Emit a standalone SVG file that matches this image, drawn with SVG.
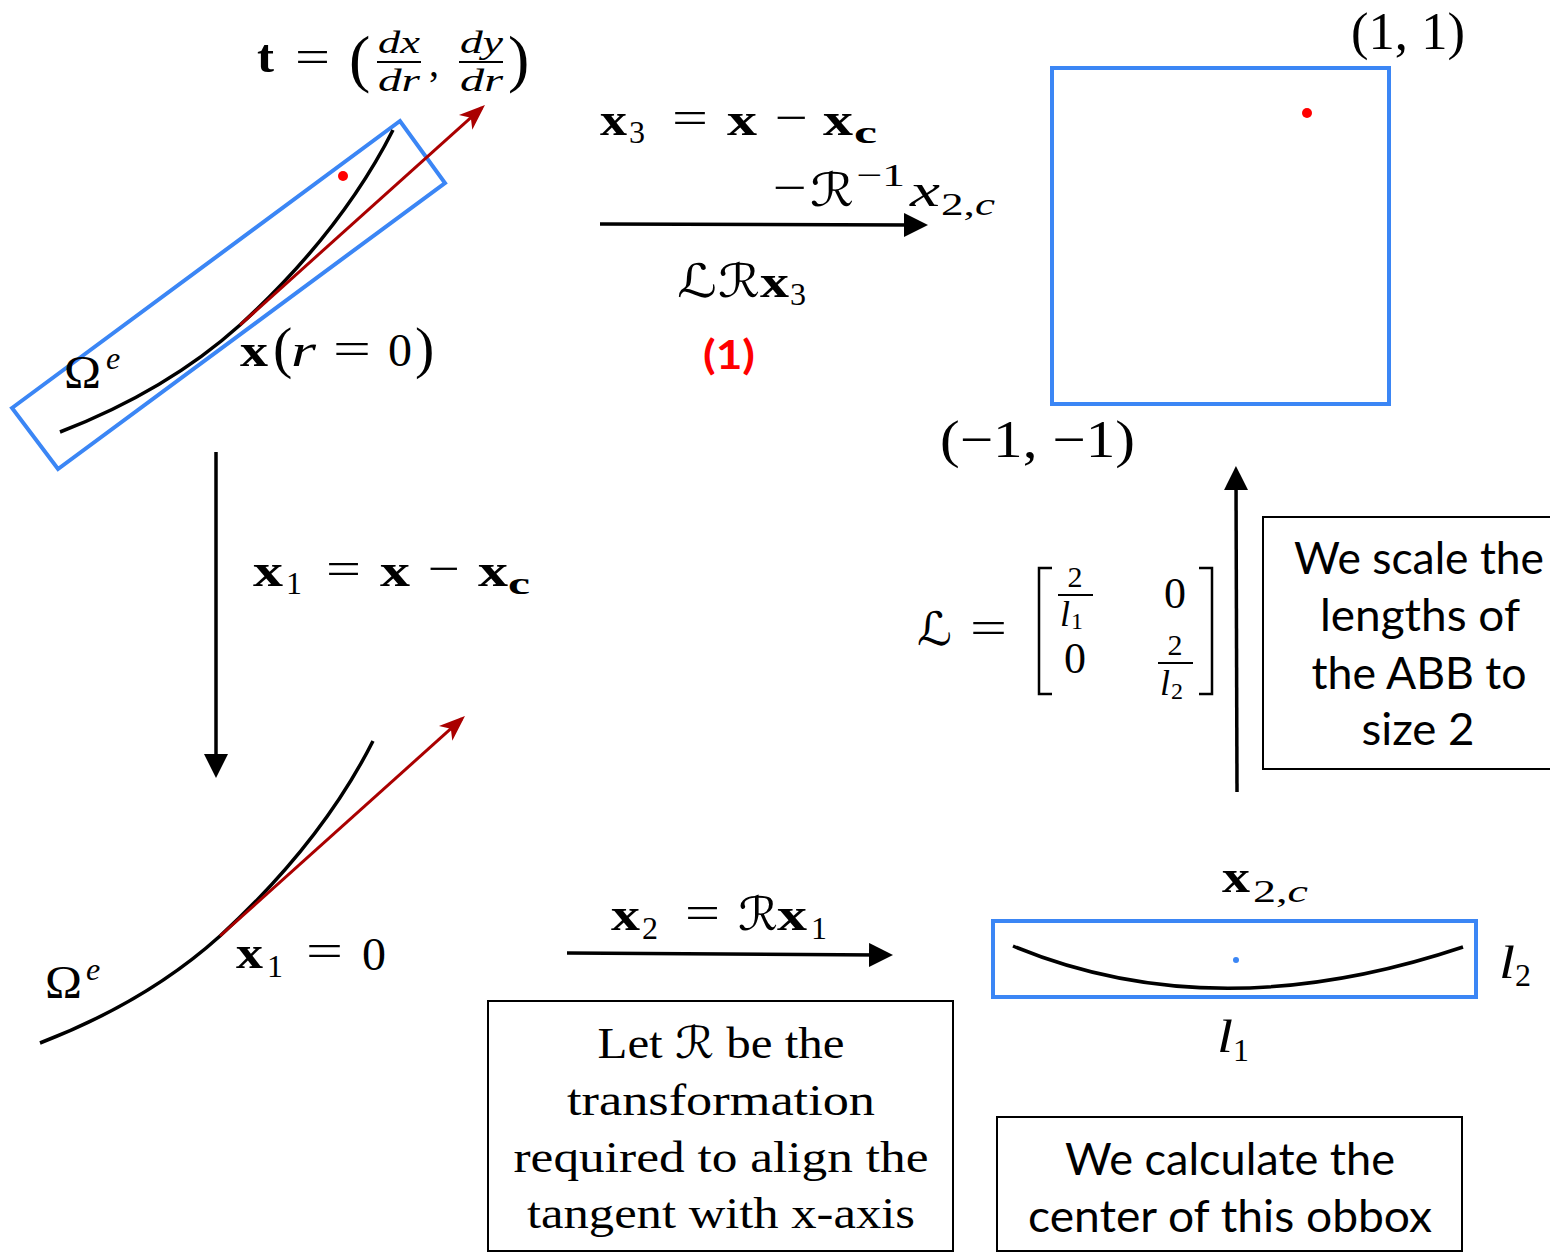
<svg xmlns="http://www.w3.org/2000/svg" width="1550" height="1253" viewBox="0 0 1550 1253">
<defs>
<style>
.m{font-family:"Liberation Serif","DejaVu Serif",serif;font-size:46px;fill:#000}
.b{font-weight:bold}
.i{font-style:italic}
.s{font-size:32px}
.cal{font-family:"DejaVu Serif","DejaVu Sans",serif;font-style:italic}
.obb{fill:none;stroke:#3b86f5;stroke-width:4}
.crv{fill:none;stroke:#000;stroke-width:3.5}
.tan{fill:none;stroke:#aa0000;stroke-width:3}
.conn{fill:none;stroke:#000;stroke-width:3.5}
.box{fill:#fff;stroke:#000;stroke-width:2}
.bt{font-family:Lato,"Open Sans",sans-serif;font-size:44px;text-anchor:middle;fill:#000}
.btS{font-family:"Liberation Serif","DejaVu Serif",serif;font-size:44px;text-anchor:middle;fill:#000}
.frac{stroke:#000;stroke-width:1.8}
</style>
<marker id="ah" markerWidth="24" markerHeight="24" refX="10" refY="12" orient="auto" markerUnits="userSpaceOnUse"><path d="M0,0 L24,12 L0,24 Z" fill="#000"/></marker>
<marker id="rh" markerWidth="26" markerHeight="20" refX="22" refY="10" orient="auto" markerUnits="userSpaceOnUse" overflow="visible"><path d="M26,10 L0,0 L7,10 L0,20 Z" fill="#aa0000"/></marker>
</defs>
<rect width="1550" height="1253" fill="#fff"/>

<g id="node-original">
<polygon class="obb" points="12,408 400,121 445,183 58,469" stroke-width="3.5"/>
<path class="crv" d="M60,432 C130,405 190,370 240,325 C300,270 355,205 393,130"/>
<line class="tan" x1="240" y1="325" x2="482" y2="107.7" marker-end="url(#rh)"/>
<circle cx="343" cy="176" r="5" fill="#ff0000"/>
<text class="m b" x="257" y="72" textLength="17" lengthAdjust="spacingAndGlyphs">t</text>
<text class="m" x="295" y="72" textLength="35" lengthAdjust="spacingAndGlyphs">=</text>
<text class="m" x="349" y="80" style="font-size:64px">(</text>
<text class="m i" x="378" y="53" style="font-size:32px" textLength="42" lengthAdjust="spacingAndGlyphs">dx</text>
<line class="frac" x1="377" y1="62" x2="421" y2="62"/>
<text class="m i" x="378" y="91" style="font-size:32px" textLength="42" lengthAdjust="spacingAndGlyphs">dr</text>
<text class="m" x="429" y="76" style="font-size:40px">,</text>
<text class="m i" x="460" y="53" style="font-size:32px" textLength="43" lengthAdjust="spacingAndGlyphs">dy</text>
<line class="frac" x1="459" y1="62" x2="503" y2="62"/>
<text class="m i" x="460" y="91" style="font-size:32px" textLength="43" lengthAdjust="spacingAndGlyphs">dr</text>
<text class="m" x="508" y="80" style="font-size:64px">)</text>
<text class="m" x="64" y="388" textLength="37" lengthAdjust="spacingAndGlyphs">Ω</text>
<text class="m i s" x="106" y="369">e</text>
<text class="m b" x="240" y="366" textLength="28" lengthAdjust="spacingAndGlyphs">x</text>
<text class="m" x="273" y="367" style="font-size:58px">(</text>
<text class="m i" x="291" y="366" textLength="25" lengthAdjust="spacingAndGlyphs">r</text>
<text class="m" x="333" y="364" textLength="38" lengthAdjust="spacingAndGlyphs">=</text>
<text class="m" x="388" y="366" textLength="24" lengthAdjust="spacingAndGlyphs">0</text>
<text class="m" x="415" y="367" style="font-size:58px">)</text>
</g>

<g id="node-normalized">
<rect class="obb" x="1052" y="68" width="337" height="336"/>
<circle cx="1307" cy="113" r="5" fill="#ff0000"/>
<text class="m" x="1351" y="49" style="font-size:52px" textLength="114" lengthAdjust="spacingAndGlyphs">(1, 1)</text>
<text class="m" x="940" y="457" style="font-size:52px" textLength="195" lengthAdjust="spacingAndGlyphs">(−1, −1)</text>
</g>

<g id="node-translated">
<g transform="translate(-20,611)">
<path class="crv" d="M60,432 C130,405 190,370 240,325 C300,270 355,205 393,130"/>
<line class="tan" x1="240" y1="325" x2="482" y2="107.7" marker-end="url(#rh)"/>
</g>
<text class="m" x="45" y="998" textLength="37" lengthAdjust="spacingAndGlyphs">Ω</text>
<text class="m i s" x="86" y="980">e</text>
<text class="m b" x="236" y="968" textLength="27" lengthAdjust="spacingAndGlyphs">x</text>
<text class="m s" x="267" y="977">1</text>
<text class="m" x="306" y="966" textLength="37" lengthAdjust="spacingAndGlyphs">=</text>
<text class="m" x="362" y="970" textLength="24" lengthAdjust="spacingAndGlyphs">0</text>
</g>

<g id="node-rotated">
<rect class="obb" x="993" y="921" width="483" height="76"/>
<path class="crv" d="M1013,946 Q1215,1030 1463,947"/>
<circle cx="1236" cy="960" r="3" fill="#3b86f5"/>
<text class="m b" x="1222" y="892" textLength="28" lengthAdjust="spacingAndGlyphs">x</text>
<text class="m s" x="1253" y="902" textLength="55" lengthAdjust="spacingAndGlyphs">2,<tspan class="i">c</tspan></text>
<text class="m i" x="1499" y="978" textLength="16" lengthAdjust="spacingAndGlyphs">l</text>
<text class="m s" x="1515" y="986">2</text>
<text class="m i" x="1217" y="1052" textLength="16" lengthAdjust="spacingAndGlyphs">l</text>
<text class="m s" x="1233" y="1061">1</text>
</g>

<g id="box-scale">
<rect class="box" x="1263" y="517" width="300" height="252"/>
<text class="bt" x="1419" y="574" textLength="250" lengthAdjust="spacingAndGlyphs">We scale the</text>
<text class="bt" x="1420" y="631" textLength="200" lengthAdjust="spacingAndGlyphs">lengths of</text>
<text class="bt" x="1419" y="689" textLength="215" lengthAdjust="spacingAndGlyphs">the ABB to</text>
<text class="bt" x="1418" y="745" textLength="113" lengthAdjust="spacingAndGlyphs">size 2</text>
</g>

<g id="box-rotation">
<rect class="box" x="488" y="1001" width="465" height="250"/>
<text class="btS" x="721" y="1058" textLength="247" lengthAdjust="spacingAndGlyphs">Let <tspan class="cal">ℛ</tspan> be the</text>
<text class="btS" x="721" y="1115" textLength="308" lengthAdjust="spacingAndGlyphs">transformation</text>
<text class="btS" x="721" y="1172" textLength="415" lengthAdjust="spacingAndGlyphs">required to align the</text>
<text class="btS" x="721" y="1228" textLength="388" lengthAdjust="spacingAndGlyphs">tangent with x-axis</text>
</g>

<g id="box-center">
<rect class="box" x="997" y="1117" width="465" height="134"/>
<text class="bt" x="1230" y="1175" textLength="330" lengthAdjust="spacingAndGlyphs">We calculate the</text>
<text class="bt" x="1230" y="1232" textLength="404" lengthAdjust="spacingAndGlyphs">center of this obbox</text>
</g>

<g id="connectors">
<line class="conn" x1="600" y1="224" x2="914" y2="225" marker-end="url(#ah)"/>
<line class="conn" x1="216" y1="452" x2="216" y2="764" marker-end="url(#ah)"/>
<line class="conn" x1="567" y1="953" x2="879" y2="955" marker-end="url(#ah)"/>
<line class="conn" x1="1237" y1="792" x2="1236" y2="480" marker-end="url(#ah)"/>
</g>

<g id="labels">
<text class="m b" x="600" y="135" textLength="27" lengthAdjust="spacingAndGlyphs">x</text>
<text class="m s" x="629" y="143">3</text>
<text class="m" x="672" y="133" textLength="36" lengthAdjust="spacingAndGlyphs">=</text>
<text class="m b" x="727" y="135" textLength="30" lengthAdjust="spacingAndGlyphs">x</text>
<text class="m" x="775" y="133" textLength="33" lengthAdjust="spacingAndGlyphs">−</text>
<text class="m b" x="823" y="135" textLength="30" lengthAdjust="spacingAndGlyphs">x</text>
<text class="m b s" x="854" y="143" textLength="23" lengthAdjust="spacingAndGlyphs">c</text>

<text class="m" x="773" y="203" textLength="34" lengthAdjust="spacingAndGlyphs">−</text>
<text class="m cal" x="810" y="206" textLength="44" lengthAdjust="spacingAndGlyphs">ℛ</text>
<text class="m s" x="856" y="186" textLength="49" lengthAdjust="spacingAndGlyphs">−1</text>
<text class="m i" x="910" y="206" textLength="30" lengthAdjust="spacingAndGlyphs">x</text>
<text class="m s" x="941" y="215" textLength="54" lengthAdjust="spacingAndGlyphs">2,<tspan class="i">c</tspan></text>

<text class="m cal" x="677" y="297" textLength="40" lengthAdjust="spacingAndGlyphs">ℒ</text>
<text class="m cal" x="718" y="297" textLength="42" lengthAdjust="spacingAndGlyphs">ℛ</text>
<text class="m b" x="760" y="297" textLength="29" lengthAdjust="spacingAndGlyphs">x</text>
<text class="m s" x="790" y="305">3</text>
<text x="729" y="369" text-anchor="middle" font-family="Lato,'Open Sans',sans-serif" font-weight="bold" font-size="40" fill="#ff0000" textLength="52" lengthAdjust="spacingAndGlyphs">(1)</text>

<text class="m b" x="253" y="586" textLength="30" lengthAdjust="spacingAndGlyphs">x</text>
<text class="m s" x="286" y="594">1</text>
<text class="m" x="326" y="584" textLength="35" lengthAdjust="spacingAndGlyphs">=</text>
<text class="m b" x="380" y="586" textLength="30" lengthAdjust="spacingAndGlyphs">x</text>
<text class="m" x="428" y="584" textLength="32" lengthAdjust="spacingAndGlyphs">−</text>
<text class="m b" x="478" y="586" textLength="30" lengthAdjust="spacingAndGlyphs">x</text>
<text class="m b s" x="508" y="594" textLength="22" lengthAdjust="spacingAndGlyphs">c</text>

<text class="m b" x="611" y="930" textLength="29" lengthAdjust="spacingAndGlyphs">x</text>
<text class="m s" x="642" y="939">2</text>
<text class="m" x="685" y="928" textLength="35" lengthAdjust="spacingAndGlyphs">=</text>
<text class="m cal" x="738" y="930" textLength="40" lengthAdjust="spacingAndGlyphs">ℛ</text>
<text class="m b" x="777" y="930" textLength="30" lengthAdjust="spacingAndGlyphs">x</text>
<text class="m s" x="811" y="939">1</text>

<text class="m cal" x="917" y="645" textLength="35" lengthAdjust="spacingAndGlyphs">ℒ</text>
<text class="m" x="970" y="643" textLength="37" lengthAdjust="spacingAndGlyphs">=</text>
<path d="M1052,568 H1039 V694 H1052" fill="none" stroke="#000" stroke-width="2.5"/>
<path d="M1199,568 H1212 V694 H1199" fill="none" stroke="#000" stroke-width="2.5"/>
<text class="m" x="1075" y="587" text-anchor="middle" style="font-size:30px">2</text>
<line class="frac" x1="1058" y1="595" x2="1093" y2="595"/>
<text class="m i" x="1060" y="626" style="font-size:36px">l</text>
<text class="m" x="1071" y="628.5" style="font-size:24px">1</text>
<text class="m" x="1075" y="673" text-anchor="middle" style="font-size:44px">0</text>
<text class="m" x="1175" y="608" text-anchor="middle" style="font-size:44px">0</text>
<text class="m" x="1175" y="655" text-anchor="middle" style="font-size:30px">2</text>
<line class="frac" x1="1158" y1="663" x2="1193" y2="663"/>
<text class="m i" x="1160" y="695" style="font-size:36px">l</text>
<text class="m" x="1171" y="699" style="font-size:24px">2</text>
</g>
</svg>
